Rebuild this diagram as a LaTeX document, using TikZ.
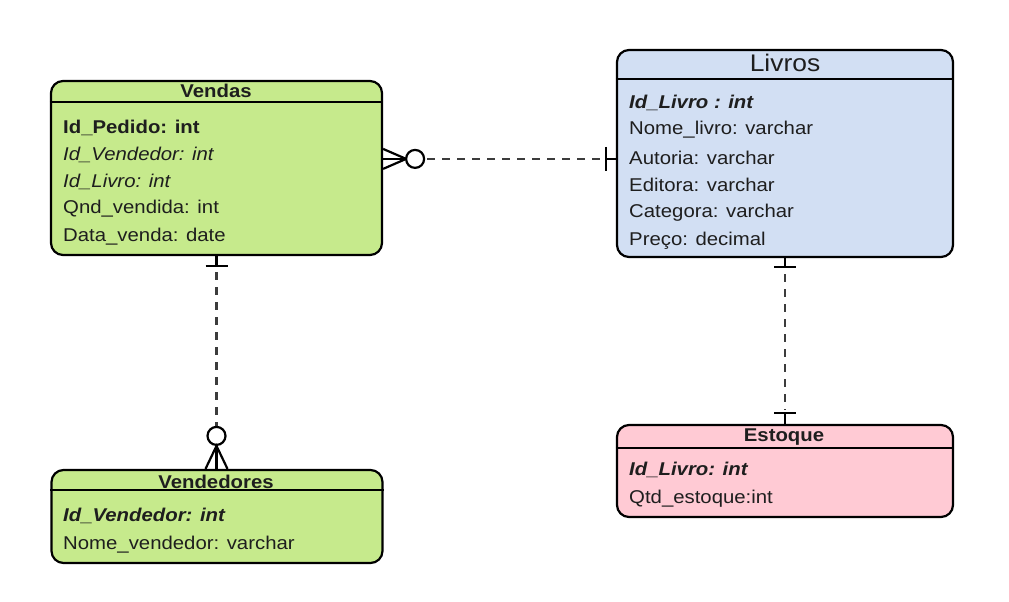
\documentclass[tikz,border=0pt]{standalone}
\usepackage{fontspec}
\setmainfont{Liberation Sans}
\usetikzlibrary{calc}
\definecolor{vgreen}{RGB}{198,234,140}
\definecolor{lblue}{RGB}{210,223,243}
\definecolor{epink}{RGB}{255,202,212}
\definecolor{txt}{RGB}{30,30,30}
\definecolor{dashc}{RGB}{60,60,60}
\newcommand\sx[1]{\scalebox{1.1}[1]{#1}}
\begin{document}
\begin{tikzpicture}[x=1pt,y=-1pt,
  entity/.style={draw=black, line width=2.2pt, rounded corners=12pt, inner sep=0pt},
  hline/.style={draw=black, line width=1.8pt},
  title/.style={inner sep=0pt, text=txt, font=\fontsize{18.5}{20}\selectfont\bfseries},
  attr/.style={inner sep=0pt, anchor=west, text=txt, font=\fontsize{18.5}{20}\selectfont},
  rel/.style={draw=black, line width=2.2pt},
  dashline/.style={draw=dashc, line width=2.6pt, dash pattern=on 8pt off 7pt}]
\useasboundingbox[fill=white] (0,0) rectangle (1009,602);

% Vendas
\node[entity, fill=vgreen, minimum width=331, minimum height=174] (vendas) at (216.5,168) {};
\draw[hline] ($(vendas.north west)+(0,22)$) -- ($(vendas.north east)+(0,22)$);
\node[title] (vendasT) at (216,91) {\sx{Vendas}};
\node[attr] (v1) at (63,128) {\sx{\textbf{Id\_Pedido: int}}};
\node[attr] (v2) at (63,155) {\sx{\textit{Id\_Vendedor: int}}};
\node[attr] (v3) at (63,182) {\sx{\textit{Id\_Livro: int}}};
\node[attr] (v4) at (63,209) {\sx{Qnd\_vendida: int}};
\node[attr] (v5) at (63,237) {\sx{Data\_venda: date}};

% Livros
\node[entity, fill=lblue, minimum width=336, minimum height=207] (livros) at (785,153.5) {};
\draw[hline] ($(livros.north west)+(0,30)$) -- ($(livros.north east)+(0,30)$);
\node[inner sep=0pt, text=txt, font=\fontsize{24}{26}\selectfont] (livrosT) at (785,63) {\sx{Livros}};
\node[attr] (l1) at (629,103) {\sx{\textbf{\textit{Id\_Livro : int}}}};
\node[attr] (l2) at (629,130) {\sx{Nome\_livro: varchar}};
\node[attr] (l3) at (629,158) {\sx{Autoria: varchar}};
\node[attr] (l4) at (629,185) {\sx{Editora: varchar}};
\node[attr] (l5) at (629,213) {\sx{Categora: varchar}};
\node[attr] (l6) at (629,241) {\sx{Preço: decimal}};

% Vendedores
\node[entity, fill=vgreen, minimum width=331, minimum height=93] (vendedores) at (217,516.5) {};
\draw[hline] ($(vendedores.north west)+(0,21)$) -- ($(vendedores.north east)+(0,21)$);
\node[title] (vendedoresT) at (216,482) {\sx{Vendedores}};
\node[attr] (d1) at (63,516) {\sx{\textbf{\textit{Id\_Vendedor: int}}}};
\node[attr] (d2) at (63,545) {\sx{Nome\_vendedor: varchar}};

% Estoque
\node[entity, fill=epink, minimum width=336, minimum height=92] (estoque) at (785,471) {};
\draw[hline] ($(estoque.north west)+(0,24)$) -- ($(estoque.north east)+(0,24)$);
\node[title] (estoqueT) at (784,437) {\sx{Estoque}};
\node[attr] (e1) at (629,470) {\sx{\textbf{\textit{Id\_Livro: int}}}};
\node[attr] (e2) at (629,499) {\sx{Qtd\_estoque:int}};

% Vendas -- Livros (zero or many : one)
\coordinate (c1s) at ($(vendas.north east)+(0,79)$);
\coordinate (c1e) at ($(livros.north west)+(0,110)$);
\draw[rel] ($(c1s)+(0,-10)$) -- ($(c1s)+(23,0)$) -- ($(c1s)+(0,10)$);
\draw[rel] (c1s) -- ($(c1s)+(23,0)$);
\draw[rel, fill=white] ($(c1s)+(32,0)$) circle[radius=9];
\draw[dashline] ($(c1s)+(44,0)$) -- ($(c1e)+(-12,0)$);
\draw[rel] ($(c1e)+(-10,-12)$) -- ($(c1e)+(-10,12)$);
\draw[rel] ($(c1e)+(-10,0)$) -- (c1e);

% Vendas -- Vendedores (one : zero or many)
\coordinate (c2s) at (vendas.south);
\coordinate (c2e) at (vendas.south |- vendedores.north);
\draw[rel] (c2s) -- ($(c2s)+(0,10)$);
\draw[rel] ($(c2s)+(-11,10)$) -- ($(c2s)+(11,10)$);
\draw[dashline] ($(c2s)+(0,16)$) -- ($(c2e)+(-0,-43)$);
\draw[rel, fill=white] ($(c2e)+(0,-33)$) circle[radius=9];
\draw[rel] ($(c2e)+(-11,0)$) -- ($(c2e)+(0,-23)$) -- ($(c2e)+(11,0)$);
\draw[rel] ($(c2e)+(0,-23)$) -- (c2e);

% Livros -- Estoque (one : one)
\coordinate (c3s) at (livros.south);
\coordinate (c3e) at (livros.south |- estoque.north);
\draw[rel] (c3s) -- ($(c3s)+(0,9)$);
\draw[rel] ($(c3s)+(-11,9)$) -- ($(c3s)+(11,9)$);
\draw[dashline] ($(c3s)+(0,16)$) -- ($(c3e)+(0,-14)$);
\draw[rel] ($(c3e)+(-11,-11)$) -- ($(c3e)+(11,-11)$);
\draw[rel] ($(c3e)+(0,-11)$) -- (c3e);
\end{tikzpicture}
\end{document}
